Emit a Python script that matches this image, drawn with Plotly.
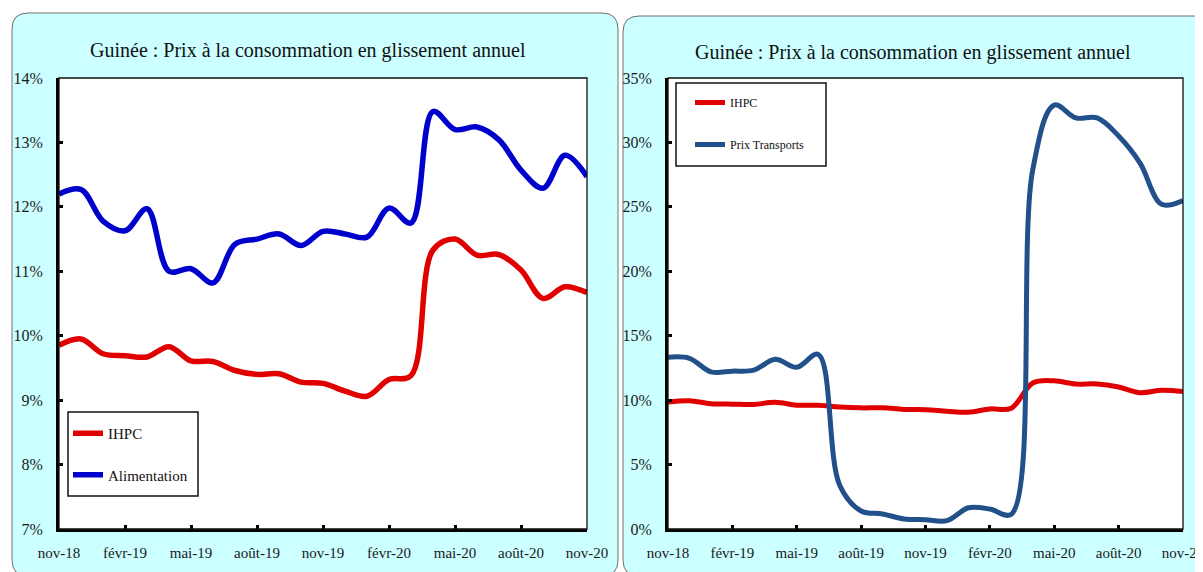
import plotly.graph_objects as go

# the page body has an 8px margin; the figure fills the rest of the 1203x572 window
OFF = 8
W, H = 1203 - OFF, 572 - OFF

months = ["nov-18", "déc-18", "janv-19", "févr-19", "mars-19", "avr-19", "mai-19", "juin-19",
          "juil-19", "août-19", "sept-19", "oct-19", "nov-19", "déc-19", "janv-20", "févr-20",
          "mars-20", "avr-20", "mai-20", "juin-20", "juil-20", "août-20", "sept-20", "oct-20", "nov-20"]
tick_months = ["nov-18", "févr-19", "mai-19", "août-19", "nov-19", "févr-20", "mai-20", "août-20", "nov-20"]

ihpc = [9.85, 9.95, 9.72, 9.69, 9.67, 9.83, 9.61, 9.60, 9.46, 9.40, 9.41, 9.28, 9.26,
        9.14, 9.06, 9.32, 9.38, 11.33, 11.50, 11.25, 11.26, 11.02, 10.58, 10.76, 10.67]
alimentation = [12.20, 12.27, 11.78, 11.63, 11.97, 11.00, 11.04, 10.82, 11.42, 11.50, 11.58, 11.40, 11.62,
                11.58, 11.53, 11.98, 11.75, 13.48, 13.20, 13.24, 13.04, 12.57, 12.29, 12.80, 12.47]
transports = [13.33, 13.25, 12.20, 12.25, 12.33, 13.17, 12.55, 13.55, 3.40, 1.40, 1.17, 0.78, 0.72,
              0.65, 1.65, 1.55, 1.15, 27.9, 32.9, 31.9, 31.9, 30.5, 28.4, 25.2, 25.5]

title_text = "Guinée : Prix à la consommation en glissement annuel"

RED = "#E00000"
BLUE = "#0000CC"
NAVY = "#22508A"
CYAN = "#CCFFFF"
FONT = "Liberation Serif"


def px(x):
    return (x - OFF) / W


def py(y):
    return 1 - (y - OFF) / H


def rounded(x0, y0, x1, y1, r):
    pts = [
        f"M {px(x0 + r)},{py(y0)}",
        f"L {px(x1 - r)},{py(y0)}",
        f"Q {px(x1)},{py(y0)} {px(x1)},{py(y0 + r)}",
        f"L {px(x1)},{py(y1 - r)}",
        f"Q {px(x1)},{py(y1)} {px(x1 - r)},{py(y1)}",
        f"L {px(x0 + r)},{py(y1)}",
        f"Q {px(x0)},{py(y1)} {px(x0)},{py(y1 - r)}",
        f"L {px(x0)},{py(y0 + r)}",
        f"Q {px(x0)},{py(y0)} {px(x0 + r)},{py(y0)}",
        "Z",
    ]
    return " ".join(pts)


# plot areas (reference pixels)
L = dict(x0=59, x1=587, y0=78, y1=529)
R = dict(x0=668, x1=1183, y0=78, y1=529)

fig = go.Figure()

fig.add_trace(go.Scatter(x=months, y=ihpc, name="IHPC", mode="lines",
                         line=dict(color=RED, width=5.5, shape="spline", smoothing=1.0),
                         xaxis="x", yaxis="y", legend="legend", legendgroup="a"))
fig.add_trace(go.Scatter(x=months, y=alimentation, name="Alimentation", mode="lines",
                         line=dict(color=BLUE, width=5.5, shape="spline", smoothing=1.0),
                         xaxis="x", yaxis="y", legend="legend", legendgroup="b"))
fig.add_trace(go.Scatter(x=months, y=ihpc, name="IHPC", mode="lines",
                         line=dict(color=RED, width=5, shape="spline", smoothing=1.0),
                         xaxis="x2", yaxis="y2", legend="legend2", legendgroup="c"))
fig.add_trace(go.Scatter(x=months, y=transports, name="Prix Transports", mode="lines",
                         line=dict(color=NAVY, width=5, shape="spline", smoothing=1.0),
                         xaxis="x2", yaxis="y2", legend="legend2", legendgroup="d"))

shapes = [
    dict(type="path", xref="paper", yref="paper", path=rounded(12, 13, 618, 576, 16),
         fillcolor=CYAN, line=dict(color="#707070", width=1), layer="below"),
    dict(type="path", xref="paper", yref="paper", path=rounded(623, 16, 1225, 576, 16),
         fillcolor=CYAN, line=dict(color="#707070", width=1), layer="below"),
]
for P in (L, R):
    shapes.append(dict(type="rect", xref="paper", yref="paper",
                       x0=px(P["x0"]), x1=px(P["x1"]), y0=py(P["y1"]), y1=py(P["y0"]),
                       fillcolor="white", line=dict(width=0), layer="below"))
    shapes.append(dict(type="rect", xref="paper", yref="paper",
                       x0=px(P["x0"]), x1=px(P["x1"]), y0=py(P["y1"]), y1=py(P["y0"]),
                       fillcolor="rgba(0,0,0,0)", line=dict(color="#111", width=1.3), layer="above"))
# legend boxes
shapes.append(dict(type="rect", xref="paper", yref="paper",
                   x0=px(68), x1=px(198), y0=py(496), y1=py(412),
                   fillcolor="white", line=dict(color="#111", width=1.5), layer="above"))
shapes.append(dict(type="rect", xref="paper", yref="paper",
                   x0=px(676), x1=px(826), y0=py(166), y1=py(83),
                   fillcolor="white", line=dict(color="#111", width=1.5), layer="above"))

axis_common = dict(showgrid=False, zeroline=False, showline=True, linecolor="black", linewidth=3,
                   ticks="inside", ticklen=4, tickwidth=3, tickcolor="black", mirror=False,
                   automargin=False,
                   tickfont=dict(family=FONT, size=15, color="#1a1a1a"))

xcommon = dict(axis_common, type="category", categoryorder="array", categoryarray=months,
               range=[0, len(months) - 1], tickmode="array", tickvals=tick_months,
               ticktext=tick_months, ticklabelstandoff=8)

fig.update_layout(
    width=W, height=H, margin=dict(l=0, r=0, t=0, b=0, autoexpand=False),
    paper_bgcolor="white", plot_bgcolor="white",
    showlegend=True,
    xaxis=dict(xcommon, domain=[px(L["x0"]), px(L["x1"])], anchor="y"),
    yaxis=dict(axis_common, domain=[py(L["y1"]), py(L["y0"])], anchor="x", range=[7, 14], dtick=1,
               tickformat=".0f", ticksuffix="%", ticklabelstandoff=10,
               tickfont=dict(family=FONT, size=16, color="#1a1a1a")),
    xaxis2=dict(xcommon, domain=[px(R["x0"]), px(R["x1"])], anchor="y2"),
    yaxis2=dict(axis_common, domain=[py(R["y1"]), py(R["y0"])], anchor="x2", range=[0, 35], dtick=5,
                tickformat=".0f", ticksuffix="%", ticklabelstandoff=10,
                tickfont=dict(family=FONT, size=16, color="#1a1a1a")),
    legend=dict(x=px(68), y=py(417), xanchor="left", yanchor="top", bgcolor="rgba(0,0,0,0)",
                borderwidth=0, tracegroupgap=19, font=dict(family=FONT, size=15, color="#111")),
    legend2=dict(x=px(690), y=py(88), xanchor="left", yanchor="top", bgcolor="rgba(0,0,0,0)",
                 borderwidth=0, tracegroupgap=23, font=dict(family=FONT, size=12, color="#111")),
    shapes=shapes,
    annotations=[
        dict(text=title_text, xref="paper", yref="paper", x=px(308), y=py(50), showarrow=False,
             xanchor="center", yanchor="middle", font=dict(family=FONT, size=20, color="#111")),
        dict(text=title_text, xref="paper", yref="paper", x=px(913), y=py(52), showarrow=False,
             xanchor="center", yanchor="middle", font=dict(family=FONT, size=20, color="#111")),
    ],
)

fig.write_html("out.html")
